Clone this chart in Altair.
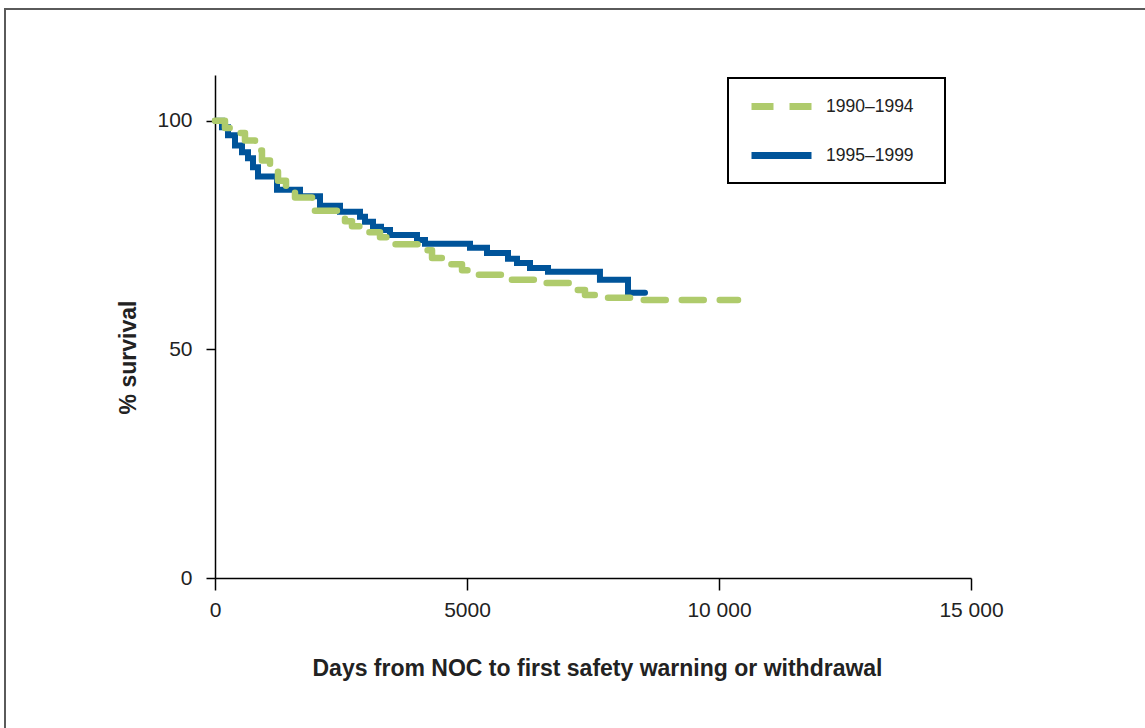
import altair as alt
import pandas as pd

series_names = ["1990–1994", "1995–1999"]

green_days = [0, 198, 397, 595, 794, 932, 1091, 1250, 1409, 1587, 1925, 2579, 2718, 3036,
              3274, 3512, 4067, 4306, 4563, 4901, 5119, 5714, 6349, 7043, 7341, 7738, 8333, 10377]
green_surv = [100, 98.4, 97.3, 95.7, 93.5, 91.3, 89.1, 86.9, 84.7, 83.2, 80.3, 78.0, 76.9, 75.6,
              74.5, 73.0, 71.7, 70.0, 68.6, 67.3, 66.3, 65.2, 64.5, 63.0, 61.9, 61.3, 60.8, 60.8]

blue_days = [0, 139, 258, 397, 536, 655, 754, 853, 1230, 1686, 2083, 2480, 2877, 2976, 3135,
             3294, 3472, 4008, 4167, 5059, 5397, 5813, 5992, 6250, 6607, 7638, 8194, 8532]
blue_surv = [100, 98.6, 96.8, 94.6, 93.1, 91.8, 89.8, 87.8, 84.9, 83.5, 81.4, 80.1, 79.0, 77.9, 76.8,
             76.1, 75.0, 73.9, 73.1, 72.2, 71.1, 69.8, 68.9, 67.8, 67.0, 65.2, 62.4, 62.4]

x_ticks = [0, 5000, 10000, 15000]
y_ticks = [0, 50, 100]

GREEN = "#AFCB6C"
BLUE = "#00549A"
FONT = "Liberation Sans"

df = pd.concat([
    pd.DataFrame({"days": green_days, "surv": green_surv, "period": series_names[0]}),
    pd.DataFrame({"days": blue_days, "surv": blue_surv, "period": series_names[1]}),
], ignore_index=True)

color = alt.Color("period:N", scale=alt.Scale(domain=series_names, range=[GREEN, BLUE]),
                  legend=alt.Legend(title=None, orient="none", legendX=533, legendY=-2,
                                    symbolType="stroke", symbolSize=3600, symbolStrokeWidth=7,
                                    labelFontSize=17.5, labelOffset=11, rowPadding=1,
                                    padding=0, labelFont=FONT, labelColor="#222222"))
dash = alt.StrokeDash("period:N", scale=alt.Scale(domain=series_names, range=[[22, 16], [1, 0]]),
                      legend=None)

x = alt.X("days:Q", scale=alt.Scale(domain=[0, 15000], nice=False),
          axis=alt.Axis(values=x_ticks, tickSize=12, labelPadding=9, labelFlush=False,
                        labelExpr="datum.value >= 10000 ? replace(format(datum.value, ','), ',', ' ') : format(datum.value, 'd')",
                        title="Days from NOC to first safety warning or withdrawal",
                        titleX=382, titleY=90, titleBaseline="middle", titleAlign="center"))
y = alt.Y("surv:Q", scale=alt.Scale(domain=[0, 110], nice=False),
          axis=alt.Axis(values=y_ticks, tickSize=9, labelPadding=14, title="% survival",
                        titleX=-87, titleY=282, titleBaseline="middle", titleAlign="center"))

base = alt.Chart(df)
blue_line = base.transform_filter(alt.datum.period == series_names[1]).mark_line(
    interpolate="step-after", strokeWidth=6, strokeCap="round", strokeJoin="miter"
).encode(x=x, y=y, color=color, strokeDash=dash)
green_line = base.transform_filter(alt.datum.period == series_names[0]).mark_line(
    interpolate="step-after", strokeWidth=6.5, strokeCap="round", strokeJoin="round"
).encode(x=x, y=y, color=color, strokeDash=dash)

one = alt.Chart(pd.DataFrame({"a": [0]}))
frame_left = one.mark_rule(color="#5a5a5a", strokeWidth=2).encode(
    x=alt.value(-210), y=alt.value(-66), y2=alt.value(660))
frame_top = one.mark_rule(color="#5a5a5a", strokeWidth=2).encode(
    x=alt.value(-211), x2=alt.value(935), y=alt.value(-66))
legend_box = one.mark_rect(fill="white", stroke="#000000", strokeWidth=2).encode(
    x=alt.value(513), x2=alt.value(730), y=alt.value(3), y2=alt.value(108))

chart = alt.layer(legend_box, blue_line, green_line, frame_left, frame_top).properties(
    width=756, height=503,
    autosize=alt.AutoSizeParams(type="none"),
    padding={"left": 215, "top": 75, "right": 174, "bottom": 150},
    background="white",
).configure_view(stroke=None).configure_axis(
    grid=False, domainColor="#000000", domainWidth=1.5, tickColor="#000000", tickWidth=1.5,
    labelFont=FONT, labelFontSize=21, labelColor="#222222",
    titleFont=FONT, titleFontSize=23, titleFontWeight="bold", titleColor="#222222",
)

chart.save("out.html", embed_options={"renderer": "svg", "actions": False})
